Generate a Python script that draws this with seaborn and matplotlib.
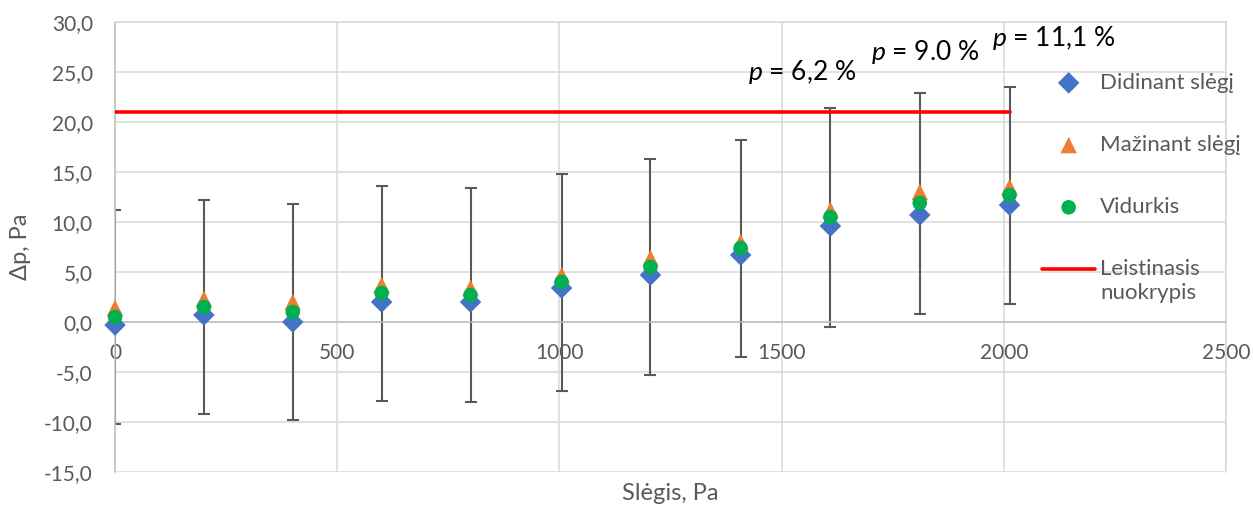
import numpy as np
import matplotlib
matplotlib.use("Agg")
import matplotlib.pyplot as plt
import seaborn as sns

# duomenys nuskaityti nuo grafiko
slegis = [0, 200, 400, 600, 800, 1005, 1205, 1408, 1610, 1811, 2013]
didinant = [-0.3, 0.7, 0.0, 2.0, 2.0, 3.4, 4.7, 6.7, 9.6, 10.7, 11.7]
mazinant = [1.4, 2.3, 2.0, 3.7, 3.4, 4.7, 6.4, 8.0, 11.2, 13.0, 13.5]
vidurkis = [0.5, 1.5, 1.0, 2.9, 2.7, 4.0, 5.5, 7.4, 10.5, 11.9, 12.7]
paklaida = [10.7, 10.7, 10.8, 10.75, 10.7, 10.85, 10.8, 10.85, 10.95, 11.05, 10.85]

leistinas_x = [0, 2013]
leistinas_y = [21.0, 21.0]

p_tekstai = ["6,2 %", "9.0 %", "11,1 %"]
p_x = [1547, 1824, 2113]
p_y = [25.0, 27.0, 28.4]

sns.set_theme(style="white")
plt.rcParams['font.family'] = ['Lato', 'DejaVu Sans']
plt.rcParams['mathtext.fontset'] = 'custom'
plt.rcParams['mathtext.it'] = 'Lato:italic'
plt.rcParams['mathtext.rm'] = 'Lato'

pilka = '#595959'

fig = plt.figure(figsize=(12.53, 5.05), dpi=100)
ax = fig.add_axes([0.0918, 0.0653, 0.8866, 0.8911])

# paklaidos
ax.errorbar(slegis, vidurkis, yerr=paklaida, fmt='none', ecolor=pilka,
            elinewidth=1.5, capsize=4, capthick=1.5, zorder=2)

sns.scatterplot(x=slegis, y=didinant, marker='D', s=120, color='#4472C4',
                edgecolor='none', label='Didinant slėgį', ax=ax, zorder=3,
                clip_on=False)
sns.scatterplot(x=slegis, y=mazinant, marker='^', s=140, color='#ED7D31',
                edgecolor='none', label='Mažinant slėgį', ax=ax, zorder=4,
                clip_on=False)
sns.scatterplot(x=slegis, y=vidurkis, marker='o', s=110, color='#00B050',
                edgecolor='none', label='Vidurkis', ax=ax, zorder=5,
                clip_on=False)
sns.lineplot(x=leistinas_x, y=leistinas_y, color='#FF0000', lw=2.6,
             label='Leistinasis\nnuokrypis', ax=ax, zorder=3)

for t, x, y in zip(p_tekstai, p_x, p_y):
    ax.text(x, y, r'$\mathit{p}$ = ' + t, fontsize=19, color='black',
            ha='center', va='center')

ax.set_xlim(0, 2500)
ax.set_ylim(-15, 30)
ax.set_xticks(np.arange(0, 2501, 500))
ax.set_yticks(np.arange(-15, 31, 5))
ax.set_yticklabels([f"{v:.1f}".replace('.', ',') for v in np.arange(-15, 31, 5)])
ax.grid(True, color='#d9d9d9', lw=1.1)
ax.set_axisbelow(True)

for s in ['top', 'right']:
    ax.spines[s].set_color('#d9d9d9')
    ax.spines[s].set_linewidth(1.1)
ax.spines['left'].set_color('#bfbfbf')
ax.spines['left'].set_linewidth(1.1)
ax.spines['bottom'].set_position(('data', 0))
ax.spines['bottom'].set_color('#bfbfbf')
ax.spines['bottom'].set_linewidth(1.1)

ax.tick_params(axis='both', length=0, labelsize=15, labelcolor=pilka, pad=16)
ax.tick_params(axis='x', pad=15)

ax.set_xlabel('Slėgis, Pa', fontsize=17, color=pilka)
ax.set_ylabel('Δp, Pa', fontsize=17, color=pilka)
ax.xaxis.set_label_coords(0.5, -0.024)
ax.yaxis.set_label_coords(-0.076, 0.5)

leg = ax.legend(loc='upper left', bbox_to_anchor=(0.8316, 0.856),
                bbox_transform=fig.transFigure, frameon=False, fontsize=16,
                labelspacing=1.9, handlelength=2.4, handletextpad=0.22,
                borderpad=0, borderaxespad=0)
for t in leg.get_texts():
    t.set_color(pilka)
# raudonos linijos ženklas ties pirmąja eilute
h = leg.legend_handles[3]
yd = h.get_ydata()
h.set_ydata([v + 9 for v in yd])

fig.savefig('out.png', dpi=100)
